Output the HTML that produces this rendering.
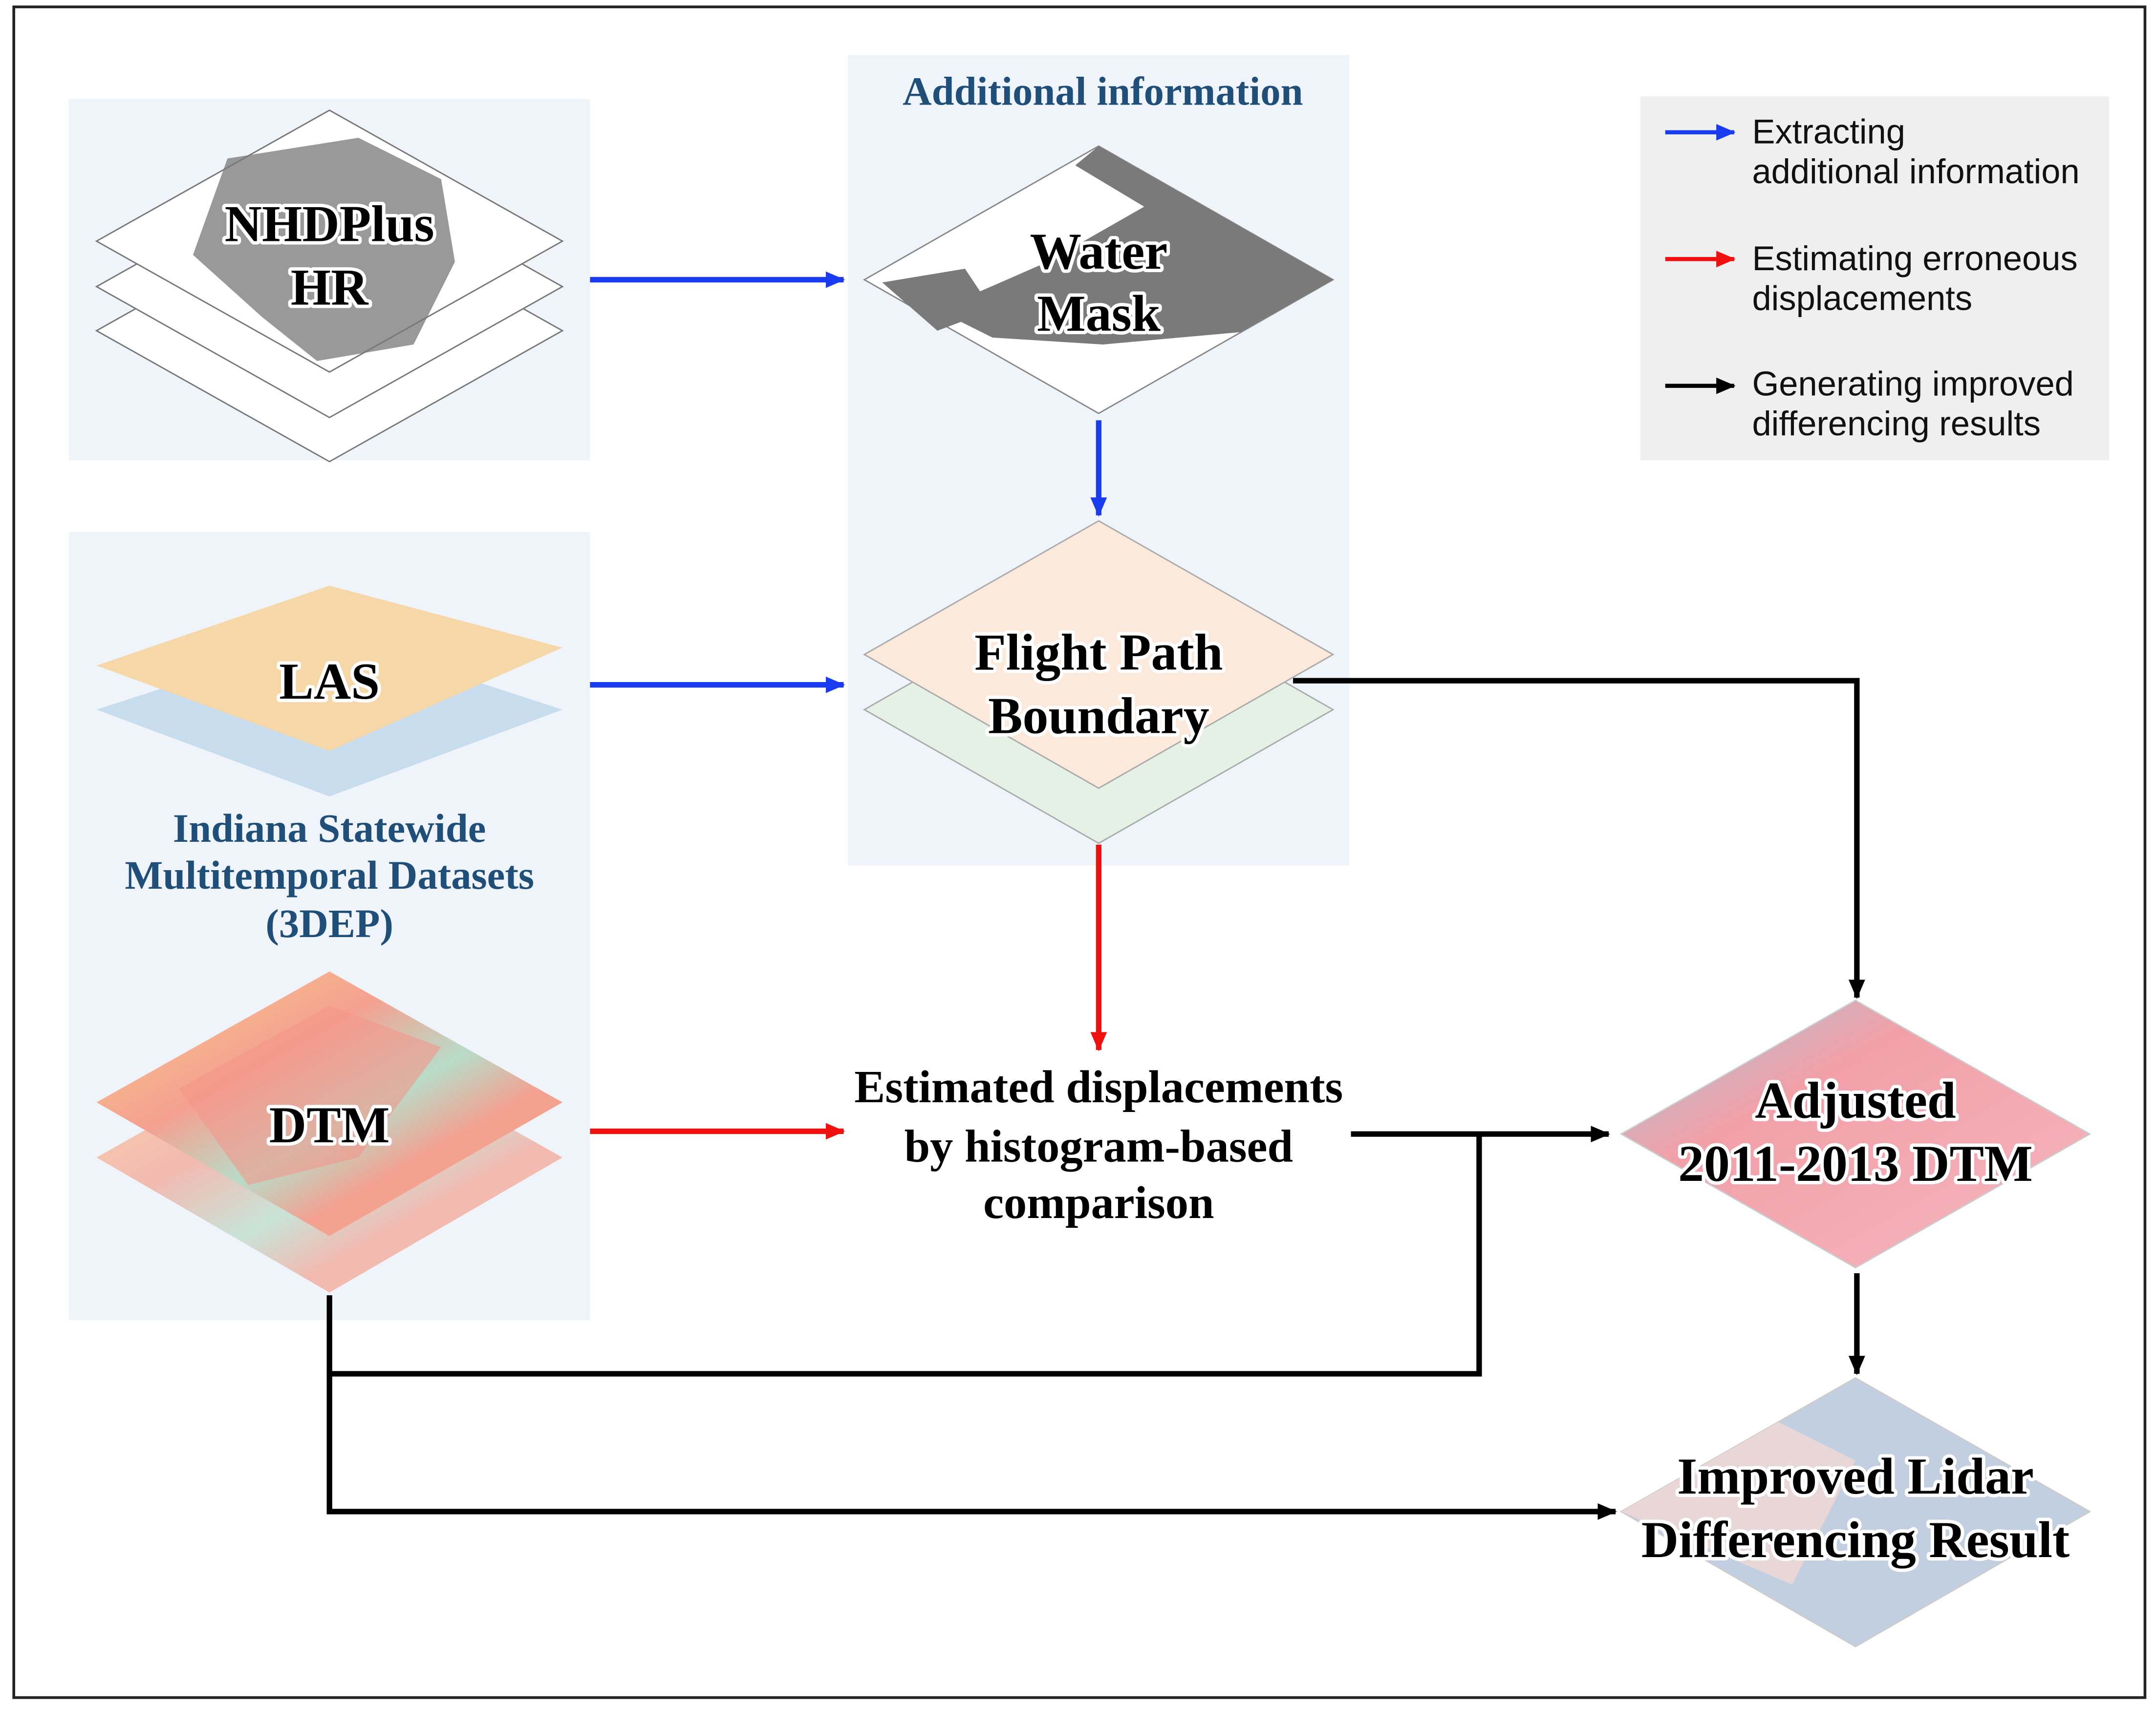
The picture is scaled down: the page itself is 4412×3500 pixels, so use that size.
<!DOCTYPE html>
<html><head><meta charset="utf-8"><style>
html,body{margin:0;padding:0;background:#fff;}
svg{display:block;}
.t{font-family:"Liberation Serif",serif;font-weight:bold;fill:#000;text-anchor:middle;}
.g{paint-order:stroke;stroke:#fff;stroke-width:5px;stroke-linejoin:round;}
.b{font-family:"Liberation Serif",serif;font-weight:bold;fill:#1f4e79;text-anchor:middle;}
.l{font-family:"Liberation Sans",sans-serif;font-size:25px;fill:#111;}
</style></head><body>
<svg width="4412" height="3500" viewBox="0 0 1564 1241" preserveAspectRatio="none" xmlns="http://www.w3.org/2000/svg">
<defs>
<marker id="ab" markerWidth="14" markerHeight="12" refX="13" refY="6" orient="auto" markerUnits="userSpaceOnUse" viewBox="0 0 14 12"><path d="M0,0L14,6L0,12z" fill="#1a3cf0"/></marker>
<marker id="ar" markerWidth="14" markerHeight="12" refX="13" refY="6" orient="auto" markerUnits="userSpaceOnUse" viewBox="0 0 14 12"><path d="M0,0L14,6L0,12z" fill="#f01010"/></marker>
<marker id="ak" markerWidth="14" markerHeight="12" refX="13" refY="6" orient="auto" markerUnits="userSpaceOnUse" viewBox="0 0 14 12"><path d="M0,0L14,6L0,12z" fill="#000"/></marker>
<linearGradient id="dtm" x1="0" y1="0" x2="1" y2="1"><stop offset="0" stop-color="#f7d28a"/><stop offset="0.35" stop-color="#f5a090"/><stop offset="0.55" stop-color="#b8dcc8"/><stop offset="0.7" stop-color="#f4a090"/><stop offset="1" stop-color="#f6b090"/></linearGradient>
<linearGradient id="adj" x1="0" y1="0" x2="1" y2="1"><stop offset="0" stop-color="#9fc6d8"/><stop offset="0.35" stop-color="#f2a0a8"/><stop offset="1" stop-color="#f5b7c0"/></linearGradient>
</defs>
<rect x="10" y="5" width="1546" height="1227" fill="#fff" stroke="#222" stroke-width="2"/>
<rect x="50" y="72" width="378" height="262" fill="#eff4fa"/>
<rect x="50" y="386" width="378" height="572" fill="#eff4fa"/>
<rect x="615" y="40" width="364" height="588" fill="#eff4fa"/>
<rect x="1190" y="70" width="340" height="264" fill="#efefef"/>
<!-- NHD -->
<path d="M70,240L239,145L408,240L239,335z" fill="#fff" stroke="#777"/>
<path d="M70,208L239,113L408,208L239,303z" fill="#fff" stroke="#777"/>
<path d="M70,175L239,80L408,175L239,270z" fill="#fff" stroke="#777"/>
<path d="M165,115L260,100L320,130L330,190L300,250L230,262L190,230L140,185z" fill="#777" opacity="0.75"/>
<text class="t g" x="239" y="175" font-size="37.5">NHDPlus</text>
<text class="t g" x="239" y="221" font-size="37.5">HR</text>
<!-- Water mask -->
<path d="M627,203L797,106L967,203L797,300z" fill="#fff" stroke="#888"/>
<path d="M797,106L967,203L900,241L800,250L720,245L680,225L760,190L830,150L780,120z" fill="#7a7a7a"/>
<path d="M640,205L700,195L720,225L680,240z" fill="#7a7a7a"/>
<text class="t g" x="797" y="195" font-size="37.5">Water</text>
<text class="t g" x="797" y="240" font-size="37.5">Mask</text>
<text class="b" x="800" y="76" font-size="29.3">Additional information</text>
<!-- Flight path -->
<path d="M627,515L797,418L967,515L797,612z" fill="#e4f1e4" stroke="#aaa"/>
<path d="M627,475L797,378L967,475L797,572z" fill="#fbe9dc" stroke="#aaa"/>
<text class="t g" x="797" y="486" font-size="37.5">Flight Path</text>
<text class="t g" x="797" y="532" font-size="37.5">Boundary</text>
<!-- LAS -->
<path d="M70,515L239,460L408,515L239,578z" fill="#c7dcec"/>
<path d="M70,483L239,425L408,470L239,545z" fill="#f6d7a8"/>
<text class="t g" x="239" y="507" font-size="37.5">LAS</text>
<text class="b" x="239" y="611" font-size="29.3">Indiana Statewide</text>
<text class="b" x="239" y="645" font-size="29.3">Multitemporal Datasets</text>
<text class="b" x="239" y="680" font-size="29.3">(3DEP)</text>
<!-- DTM -->
<path d="M70,840L239,745L408,840L239,938z" fill="url(#dtm)" opacity="0.7"/>
<path d="M70,800L239,705L408,800L239,897z" fill="url(#dtm)"/>
<path d="M130,790L239,730L320,760L260,840L180,860z" fill="#f3968a" opacity="0.6"/>
<text class="t g" x="239" y="829" font-size="37.5">DTM</text>
<!-- Estimated -->
<text class="t" x="797" y="800" font-size="33.5">Estimated displacements</text>
<text class="t" x="797" y="843" font-size="33.5">by histogram-based</text>
<text class="t" x="797" y="884" font-size="33.5">comparison</text>
<!-- Adjusted -->
<path d="M1176,823L1346,726L1516,823L1346,920z" fill="url(#adj)" stroke="#ccc"/>
<text class="t g" x="1346" y="811" font-size="37.5">Adjusted</text>
<text class="t g" x="1346" y="857" font-size="37.5">2011-2013 DTM</text>
<!-- Improved -->
<path d="M1176,1097L1346,1000L1516,1097L1346,1195z" fill="#c2cfe0" stroke="#ccc"/>
<path d="M1176,1097L1290,1032L1346,1060L1300,1150z" fill="#f2d8d6" opacity="0.8"/>
<text class="t g" x="1346" y="1084" font-size="37.5">Improved Lidar</text>
<text class="t g" x="1346" y="1130" font-size="37.5">Differencing Result</text>
<!-- Arrows -->
<g stroke-width="4" fill="none">
<line x1="428" y1="203" x2="612" y2="203" stroke="#1a3cf0" marker-end="url(#ab)"/>
<line x1="797" y1="305" x2="797" y2="374" stroke="#1a3cf0" marker-end="url(#ab)"/>
<line x1="428" y1="497" x2="612" y2="497" stroke="#1a3cf0" marker-end="url(#ab)"/>
<line x1="797" y1="613" x2="797" y2="762" stroke="#f01010" marker-end="url(#ar)"/>
<line x1="428" y1="821" x2="612" y2="821" stroke="#f01010" marker-end="url(#ar)"/>
<polyline points="938,494 1347,494 1347,724" stroke="#000" marker-end="url(#ak)"/>
<line x1="980" y1="823" x2="1167" y2="823" stroke="#000" marker-end="url(#ak)"/>
<polyline points="1073,823 1073,997 239,997 239,940" stroke="#000"/>
<polyline points="239,997 239,1097 1172,1097" stroke="#000" marker-end="url(#ak)"/>
<line x1="1347" y1="924" x2="1347" y2="997" stroke="#000" marker-end="url(#ak)"/>
<line x1="1208" y1="96" x2="1258" y2="96" stroke="#1a3cf0" stroke-width="3" marker-end="url(#ab)"/>
<line x1="1208" y1="188" x2="1258" y2="188" stroke="#f01010" stroke-width="3" marker-end="url(#ar)"/>
<line x1="1208" y1="280" x2="1258" y2="280" stroke="#000" stroke-width="3" marker-end="url(#ak)"/>
</g>
<text class="l" x="1271" y="104">Extracting</text>
<text class="l" x="1271" y="133">additional information</text>
<text class="l" x="1271" y="196">Estimating erroneous</text>
<text class="l" x="1271" y="225">displacements</text>
<text class="l" x="1271" y="287">Generating improved</text>
<text class="l" x="1271" y="316">differencing results</text>
</svg>
</body></html>
